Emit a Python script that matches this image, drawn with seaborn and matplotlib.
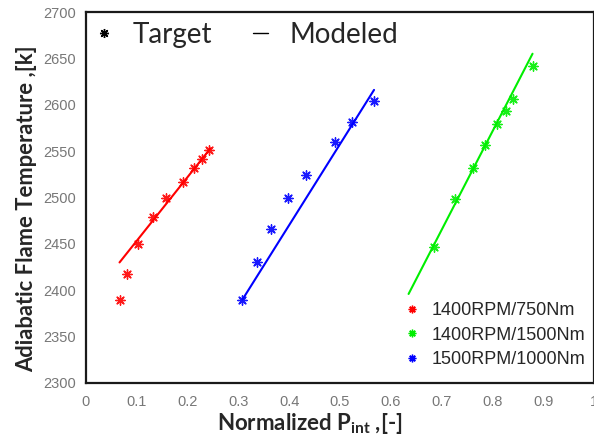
import numpy as np
import pandas as pd
import matplotlib
matplotlib.use("Agg")
import matplotlib.pyplot as plt
import seaborn as sns
from matplotlib.lines import Line2D

# ---------------- data ----------------
series_names = ["1400RPM/750Nm", "1400RPM/1500Nm", "1500RPM/1000Nm"]
series_colors = ["#ff0000", "#00ee00", "#0000ff"]

# Target points
red_x = [0.066, 0.081, 0.103, 0.131, 0.158, 0.190, 0.213, 0.228, 0.243]
red_y = [2389, 2418, 2450, 2479, 2500, 2517, 2532, 2542, 2551]
green_x = [0.686, 0.726, 0.761, 0.785, 0.810, 0.826, 0.840, 0.879]
green_y = [2447, 2498, 2532, 2557, 2579, 2593, 2606, 2642]
blue_x = [0.308, 0.336, 0.364, 0.398, 0.434, 0.491, 0.524, 0.567]
blue_y = [2390, 2430, 2466, 2500, 2524, 2560, 2581, 2604]

# Modeled lines (end points of fitted lines)
red_model_x = [0.066, 0.245]
red_model_y = [2430, 2553]
green_model_x = [0.635, 0.879]
green_model_y = [2396, 2655]
blue_model_x = [0.308, 0.567]
blue_model_y = [2390, 2616]

x_ticks = [0, 0.1, 0.2, 0.3, 0.4, 0.5, 0.6, 0.7, 0.8, 0.9, 1]
x_tick_labels = ["0", "0.1", "0.2", "0.3", "0.4", "0.5", "0.6", "0.7", "0.8", "0.9", "1"]
y_ticks = [2300, 2350, 2400, 2450, 2500, 2550, 2600, 2650, 2700]

# ---------------- tables ----------------
targets = pd.concat([
    pd.DataFrame({"x": red_x, "y": red_y, "case": series_names[0]}),
    pd.DataFrame({"x": green_x, "y": green_y, "case": series_names[1]}),
    pd.DataFrame({"x": blue_x, "y": blue_y, "case": series_names[2]}),
])
models = pd.concat([
    pd.DataFrame({"x": red_model_x, "y": red_model_y, "case": series_names[0]}),
    pd.DataFrame({"x": green_model_x, "y": green_model_y, "case": series_names[1]}),
    pd.DataFrame({"x": blue_model_x, "y": blue_model_y, "case": series_names[2]}),
])
palette = dict(zip(series_names, series_colors))

# ---------------- plot ----------------
sns.set_style("white")
plt.rcParams["font.family"] = ["Liberation Sans", "DejaVu Sans"]
plt.rcParams["mathtext.default"] = "regular"

fig = plt.figure(figsize=(5.94, 4.46), dpi=100)
ax = fig.add_axes([86 / 594, 63 / 446, 508 / 594, 371 / 446])

sns.lineplot(data=models, x="x", y="y", hue="case", palette=palette,
             linewidth=1.5, legend=False, ax=ax, sort=False, estimator=None)
ast = (8, 2, 0)
for name in series_names:
    sub = targets[targets["case"] == name]
    sns.scatterplot(data=sub, x="x", y="y", color=palette[name], marker=ast,
                    s=45, linewidth=1.0, edgecolor=palette[name], alpha=0.9,
                    legend=False, ax=ax)

ax.set_xlim(0, 1)
ax.set_ylim(2300, 2700)
ax.set_xticks(x_ticks)
ax.set_xticklabels(x_tick_labels)
ax.set_yticks(y_ticks)

ax.tick_params(axis="y", direction="in", length=3, width=0.8, color="#808080",
               labelsize=10.5, labelcolor="#777777", pad=7)
ax.tick_params(axis="x", direction="in", length=0, labelsize=10.5,
               labelcolor="#777777", pad=9)

for side in ["left", "bottom", "top", "right"]:
    ax.spines[side].set_visible(True)
    ax.spines[side].set_linewidth(1.6)
    ax.spines[side].set_color("#1a1a1a")

ax.set_xlabel("Normalized P$_{int}$ ,[-]", fontsize=16, fontweight="bold",
              family=["Lato", "DejaVu Sans"])
ax.set_ylabel("Adiabatic Flame Temperature ,[k]", fontsize=15.8, fontweight="bold",
              family=["Lato", "DejaVu Sans"])
ax.xaxis.set_label_coords((310 - 86) / 508, -0.075)
ax.yaxis.set_label_coords((37 - 86) / 508, (383 - 209) / 371)

# series legend (lower right)
handles = [Line2D([], [], ls="none", marker=ast, color=c, markersize=5.5,
                  markeredgewidth=1.0) for c in series_colors]
leg1 = ax.legend(handles, series_names, loc="upper left",
                 bbox_to_anchor=((403 - 86) / 508, (383 - 302) / 371),
                 frameon=False, fontsize=13, handlelength=1.0,
                 handletextpad=0.6, labelspacing=0.42, borderpad=0,
                 borderaxespad=0)
ax.add_artist(leg1)

# Target / Modeled legend (top)
h2 = [Line2D([], [], ls="none", marker=ast, color="black", markersize=6.5,
             markeredgewidth=1.0),
      Line2D([], [], color="black", lw=1.0)]
leg2 = ax.legend(h2, ["Target", "Modeled"], loc="upper left", ncol=2,
                 bbox_to_anchor=((96 - 86) / 508, 1 - (22 - 12) / 371),
                 frameon=False, handlelength=0.54, handletextpad=0.79,
                 columnspacing=1.45, borderpad=0, borderaxespad=0,
                 prop={"family": ["Lato", "DejaVu Sans"], "size": 20})

fig.savefig("out.png", dpi=100)
